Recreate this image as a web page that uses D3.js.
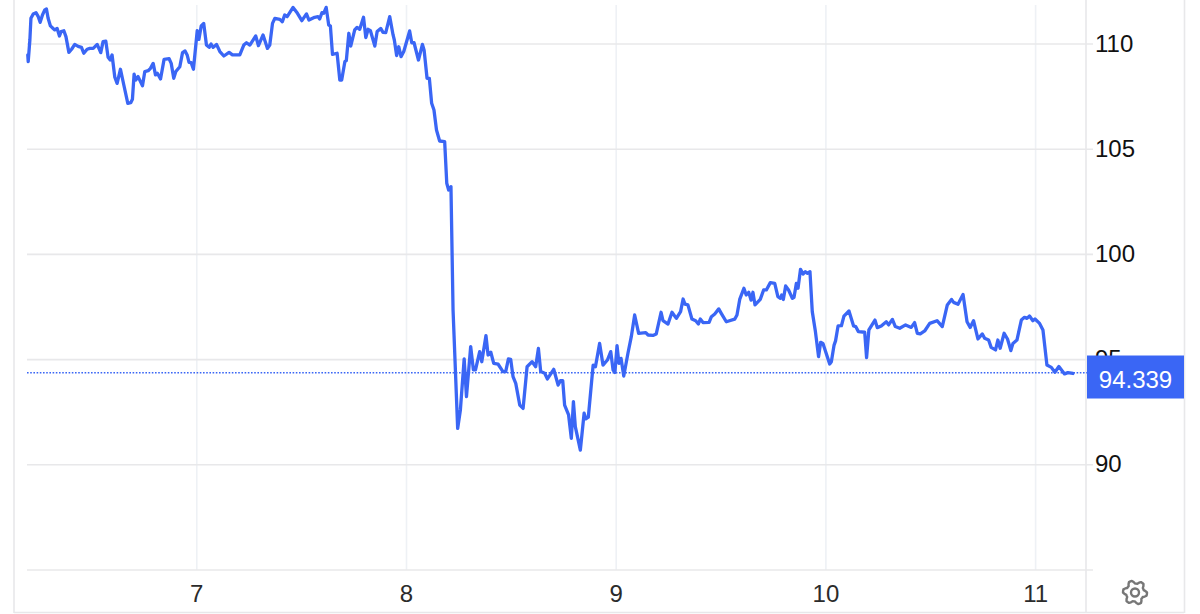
<!DOCTYPE html>
<html>
<head>
<meta charset="utf-8">
<script src="https://cdn.jsdelivr.net/npm/d3@7/dist/d3.min.js"></script>
<style>
html,body{margin:0;padding:0;background:#fff;overflow:hidden}
svg{display:block}
text{font-family:"Liberation Sans",Arial,sans-serif}
</style>
</head>
<body>
<svg id="chart" width="1200" height="614"></svg>
<script>
const days = [6.194,6.196,6.204,6.209,6.220,6.233,6.244,6.253,6.264,6.275,6.283,6.291,6.302,6.315,6.323,6.334,6.345,6.353,6.366,6.376,6.390,6.403,6.418,6.434,6.450,6.461,6.477,6.490,6.506,6.525,6.542,6.553,6.566,6.577,6.587,6.596,6.609,6.620,6.636,6.652,6.671,6.685,6.693,6.701,6.709,6.720,6.741,6.752,6.768,6.779,6.792,6.803,6.812,6.827,6.844,6.868,6.878,6.890,6.900,6.919,6.932,6.944,6.954,6.963,6.973,6.984,
7.002,7.010,7.021,7.033,7.046,7.059,7.068,7.078,7.094,7.110,7.129,7.154,7.170,7.205,7.224,7.237,7.253,7.281,7.294,7.316,7.337,7.348,7.361,7.372,7.396,7.408,7.419,7.431,7.459,7.480,7.501,7.523,7.535,7.562,7.578,7.586,7.597,7.605,7.617,7.629,7.637,7.647,7.669,7.682,7.691,7.706,7.713,7.725,7.734,7.753,7.764,7.777,7.795,7.806,7.817,7.828,7.849,7.860,7.877,7.888,7.901,7.920,7.936,7.942,7.953,7.963,7.974,7.987,
8.015,8.025,8.036,8.057,8.076,8.084,8.098,8.109,8.120,8.131,8.143,8.158,8.182,8.192,8.201,8.212,8.222,8.244,8.257,8.275,8.286,8.306,8.319,8.329,8.349,8.359,8.379,8.389,8.402,8.416,8.437,8.460,8.473,8.486,8.497,8.508,8.521,8.540,8.556,8.575,8.599,8.616,8.629,8.640,8.659,8.672,8.702,8.723,8.734,8.745,8.754,8.773,8.786,8.796,8.805,8.829,8.847,8.855,8.867,8.890,8.901,8.921,8.937,8.958,8.974,8.985,8.994,
9.004,9.013,9.023,9.036,9.056,9.072,9.088,9.107,9.141,9.152,9.175,9.191,9.214,9.223,9.247,9.266,9.287,9.307,9.319,9.328,9.342,9.361,9.379,9.392,9.401,9.414,9.443,9.454,9.470,9.489,9.501,9.525,9.565,9.576,9.589,9.609,9.620,9.632,9.643,9.652,9.662,9.687,9.703,9.716,9.735,9.756,9.771,9.783,9.789,9.797,9.808,9.822,9.840,9.848,9.859,9.867,9.879,9.891,9.902,9.911,9.924,9.935,9.950,9.965,9.975,9.986,
10.018,10.026,10.039,10.046,10.058,10.074,10.086,10.110,10.132,10.142,10.155,10.185,10.194,10.205,10.234,10.245,10.264,10.288,10.299,10.317,10.331,10.352,10.380,10.407,10.423,10.436,10.450,10.471,10.495,10.530,10.555,10.579,10.599,10.609,10.630,10.654,10.673,10.688,10.704,10.725,10.746,10.757,10.776,10.788,10.809,10.820,10.831,10.850,10.866,10.882,10.892,10.911,10.932,10.947,10.959,10.971,10.987,10.997,
11.019,11.035,11.054,11.075,11.092,11.111,11.138,11.154,11.178];
const prices = [109.48,109.16,110.19,111.22,111.43,111.49,111.30,111.03,111.38,111.62,111.66,111.22,110.86,110.74,110.67,110.74,110.38,110.59,110.63,110.35,109.60,109.75,109.98,109.89,109.84,109.56,109.75,109.79,109.79,109.98,109.59,110.11,110.14,109.37,109.24,109.48,108.42,108.13,108.80,108.05,107.18,107.21,107.37,108.57,108.29,108.45,108.02,108.69,108.73,108.84,109.08,108.53,108.61,108.34,109.27,109.30,109.08,108.37,108.69,108.92,109.59,109.67,109.48,109.13,109.11,108.80,
110.63,110.22,110.86,110.98,109.95,109.84,110.00,109.84,109.98,109.64,109.43,109.60,109.48,109.48,109.95,110.06,109.95,110.38,109.92,110.43,109.79,109.95,110.98,111.22,111.17,111.06,111.38,111.30,111.74,111.46,111.11,111.43,111.14,111.27,111.30,111.19,111.49,111.46,111.74,110.90,110.86,109.51,109.56,108.29,108.29,109.16,109.21,110.51,109.90,110.67,110.79,110.70,111.27,110.30,110.70,110.63,109.90,110.59,110.74,110.55,110.54,111.30,110.43,110.19,109.45,109.87,109.40,109.64,
110.62,110.06,110.06,109.24,109.98,109.71,108.37,108.37,107.18,106.86,105.91,105.39,105.36,103.38,103.06,103.22,97.36,91.73,92.61,95.03,93.24,95.62,94.51,94.51,95.38,94.90,96.14,95.22,95.35,94.82,94.78,94.43,94.43,95.03,95.01,94.19,93.87,92.84,92.68,94.66,94.90,94.66,95.53,94.43,94.35,94.08,94.54,93.79,94.00,94.00,92.84,92.37,91.26,93.00,91.81,90.70,92.45,92.18,92.26,94.74,94.66,95.77,94.74,94.98,95.38,94.51,94.39,
95.66,94.82,95.06,94.22,95.30,96.09,97.12,96.25,96.28,96.17,96.15,96.22,97.25,96.85,96.69,97.25,96.96,97.28,97.88,97.64,97.60,96.93,96.85,96.69,96.93,96.76,96.77,97.04,97.17,97.41,97.20,96.80,96.92,97.12,97.86,98.39,98.07,98.20,97.83,98.20,97.60,97.86,98.31,98.31,98.66,98.62,97.99,97.91,98.07,97.86,98.50,98.31,97.91,97.96,98.62,98.39,99.29,99.07,99.18,99.10,99.18,97.28,96.33,95.14,95.82,95.77,
94.79,94.90,95.69,95.89,96.60,96.61,97.07,97.31,96.60,96.57,96.33,96.30,95.09,96.41,96.88,96.52,96.60,96.80,96.65,96.91,96.57,96.49,96.65,96.53,96.76,96.25,96.22,96.36,96.72,96.85,96.57,97.60,97.86,97.72,97.63,98.10,96.80,96.53,96.85,95.98,96.22,96.01,95.93,95.58,95.46,95.93,95.54,96.25,95.98,95.43,95.77,95.93,96.88,97.01,96.96,97.07,96.85,96.93,
96.72,96.41,94.74,94.63,94.40,94.67,94.32,94.38,94.34];
const xTicks = [7,8,9,10,11];
const yTicks = [90,95,100,105,110];
const lastValue = 94.339;
const lastLabel = "94.339";

const svg = d3.select("#chart");
const x = d3.scaleLinear().domain([7,11]).range([196.8,1035.6]);
const y = d3.scaleLinear().domain([85,110]).range([570,44]);
const BLUE = "#3a66f5";

// frame
const frame = svg.append("g").attr("fill","none").attr("stroke","#e8e8ea").attr("stroke-width",1.6);
frame.append("line").attr("x1",14).attr("x2",14).attr("y1",0).attr("y2",613);
frame.append("line").attr("x1",14).attr("x2",1184).attr("y1",612.5).attr("y2",612.5);
frame.append("line").attr("x1",1184.5).attr("x2",1184.5).attr("y1",0).attr("y2",613);
frame.append("line").attr("x1",1086).attr("x2",1086).attr("y1",0).attr("y2",613);

// vertical grid
svg.append("g").selectAll("line").data(xTicks).join("line")
  .attr("x1",d=>x(d)).attr("x2",d=>x(d)).attr("y1",5).attr("y2",570)
  .attr("stroke","#eef1f5").attr("stroke-width",1.6);

// horizontal grid
svg.append("g").selectAll("line").data([85].concat(yTicks)).join("line")
  .attr("x1",27).attr("x2",1093).attr("y1",d=>y(d)).attr("y2",d=>y(d))
  .attr("stroke","#e8e8ea").attr("stroke-width",1.6);

// y tick labels
svg.append("g").selectAll("text").data(yTicks).join("text")
  .attr("x",1095).attr("y",d=>y(d)+7.5)
  .attr("font-size",24).attr("fill","#111")
  .text(d=>d);

// x tick labels
svg.append("g").selectAll("text").data(xTicks).join("text")
  .attr("x",d=>x(d)).attr("y",602).attr("text-anchor","middle")
  .attr("font-size",24).attr("fill","#2b2b2b")
  .text(d=>d);

// last value dotted line
svg.append("line").attr("x1",27).attr("x2",1087)
  .attr("y1",y(lastValue)-0.8).attr("y2",y(lastValue)-0.8)
  .attr("stroke",BLUE).attr("stroke-width",1.5).attr("stroke-dasharray","1.6 1.6");

// price line
const pts = days.map((d,i)=>[d,prices[i]]);
svg.append("path").datum(pts)
  .attr("fill","none").attr("stroke",BLUE).attr("stroke-width",3.3)
  .attr("stroke-linejoin","round").attr("stroke-linecap","round")
  .attr("d",d3.line().x(d=>x(d[0])).y(d=>y(d[1])));

// last value label
svg.append("rect").attr("x",1087).attr("y",y(lastValue)-18).attr("width",97).attr("height",43)
  .attr("fill",BLUE);
svg.append("text").attr("x",1135.5).attr("y",y(lastValue)+14).attr("text-anchor","middle")
  .attr("font-size",24).attr("fill","#fff").text(lastLabel);

// settings gear
const teeth = d3.range(48).map(i=>{
  const a = i/48*2*Math.PI;
  const p = ((i+4)%8);
  return [a, p<3 ? 12 : (p===3||p===7 ? 10.6 : 9)];
});
const gear = svg.append("g").attr("transform","translate(1135,592.5)")
  .attr("fill","none").attr("stroke","#777").attr("stroke-width",2.4);
gear.append("path").attr("stroke-linejoin","round")
  .attr("d",d3.lineRadial().curve(d3.curveLinearClosed)(teeth));
gear.append("circle").attr("r",4);
</script>
</body>
</html>
